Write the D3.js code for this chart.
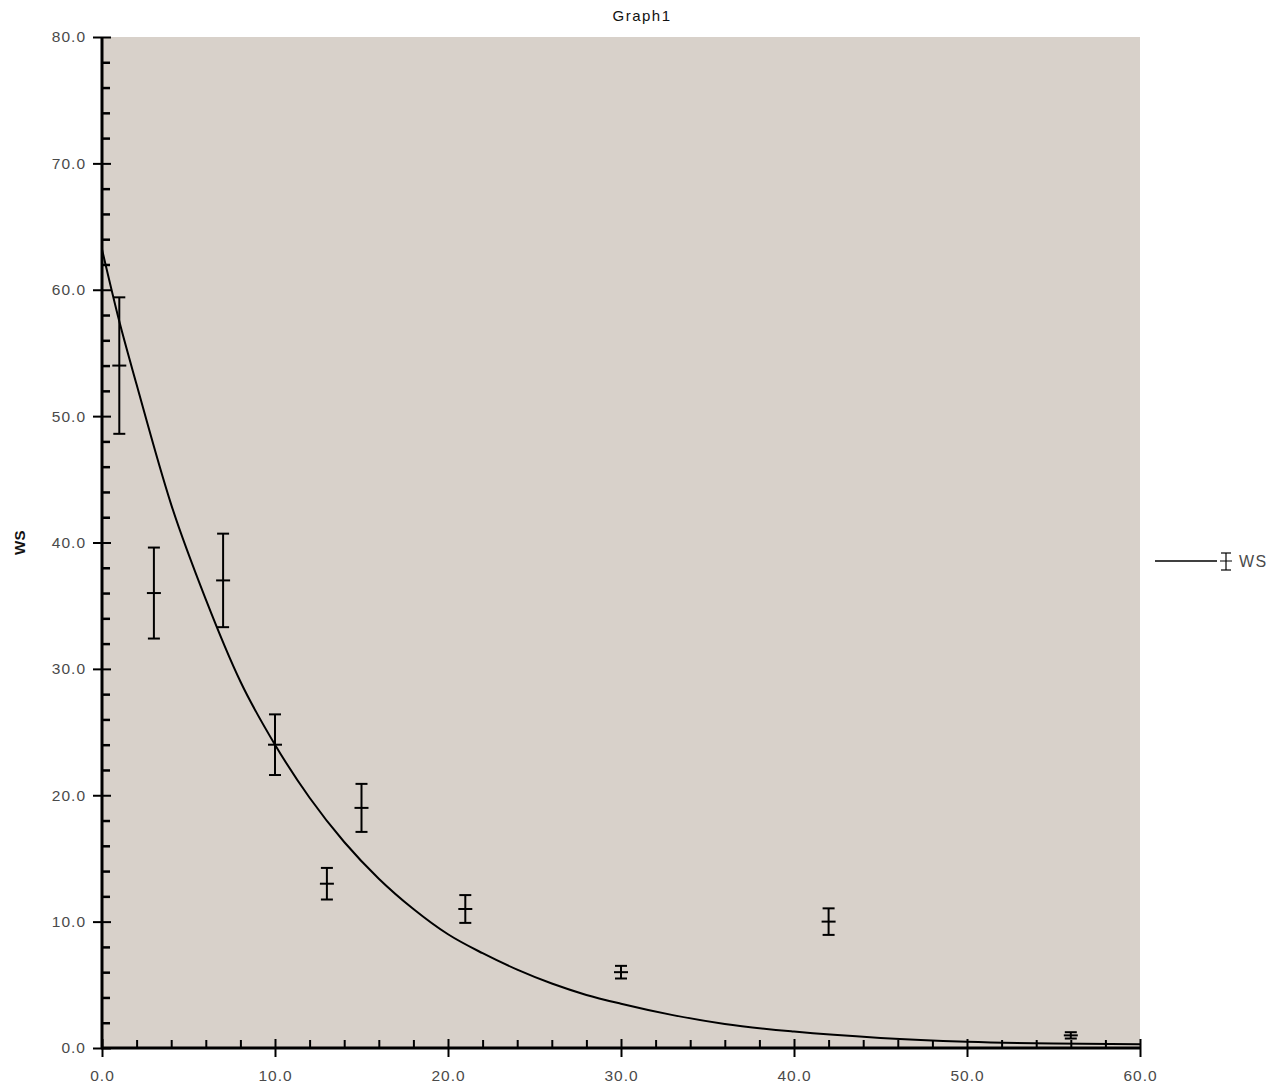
<!DOCTYPE html>
<html>
<head>
<meta charset="utf-8">
<script src="https://cdn.jsdelivr.net/npm/d3@7"></script>
<style>
  body { margin: 0; background: #fff; }
  svg { display: block; }
  text { font-family: "Liberation Sans", Arial, sans-serif; }
</style>
</head>
<body>
<script>
// ---- data ----
const title = "Graph1";
const seriesName = "WS";
const xTicks = [0, 10, 20, 30, 40, 50, 60];
const yTicks = [0, 10, 20, 30, 40, 50, 60, 70, 80];
const pointX = [1, 3, 7, 10, 13, 15, 21, 30, 42, 56];
const pointY = [54.0, 36.0, 37.0, 24.0, 13.0, 19.0, 11.0, 6.0, 10.0, 1.0];
const pointErr = [5.4, 3.6, 3.7, 2.4, 1.25, 1.9, 1.1, 0.5, 1.05, 0.25];
const curveX = [0, 1, 2, 4, 6, 8, 10, 12, 14, 16, 18, 20, 22, 24, 26, 28, 30, 33, 36, 40, 45, 50, 55, 60];
const curveY = [63.2, 57.5, 52.5, 43.0, 35.5, 29.0, 24.0, 19.8, 16.3, 13.4, 11.0, 9.0, 7.5, 6.2, 5.1, 4.2, 3.5, 2.6, 1.9, 1.3, 0.8, 0.5, 0.35, 0.3];

const W = 1284, H = 1087;
const svg = d3.select("body").append("svg").attr("width", W).attr("height", H);

const x = d3.scaleLinear().domain([0, 60]).range([102, 1140]);
const y = d3.scaleLinear().domain([0, 80]).range([1048, 37]);

// plot background
svg.append("rect")
  .attr("x", x(0)).attr("y", y(80))
  .attr("width", x(60) - x(0)).attr("height", y(0) - y(80))
  .attr("fill", "#d8d1ca");

// title
svg.append("text").attr("x", 642).attr("y", 21)
  .attr("text-anchor", "middle").attr("font-size", 15).attr("fill", "#111")
  .attr("letter-spacing", 1.5)
  .text(title);

// y axis label
svg.append("text")
  .attr("transform", `translate(25,${y(40)}) rotate(-90)`)
  .attr("text-anchor", "middle").attr("font-size", 15).attr("font-weight", "bold").attr("fill", "#111")
  .attr("letter-spacing", 0.5)
  .text(seriesName);

// curve
const line = d3.line().x((d, i) => x(curveX[i])).y(d => y(d)).curve(d3.curveMonotoneX);
svg.append("path").datum(curveY)
  .attr("d", line).attr("fill", "none").attr("stroke", "#000").attr("stroke-width", 2);

// axes
const axisColor = "#000";
const labelStyle = sel => sel.attr("font-size", 15.5).attr("fill", "#4a4a4a")
  .attr("font-family", "'Liberation Sans', Arial, sans-serif").attr("letter-spacing", 1);
// y axis minor ticks
const yMinor = d3.range(0, 81, 2).filter(v => v % 10 !== 0);
const yAxisMinor = d3.axisRight(y).tickValues(yMinor).tickSize(8).tickFormat("");
svg.append("g").attr("transform", `translate(${x(0)},0)`).call(yAxisMinor)
  .call(g => g.select(".domain").remove())
  .call(g => g.selectAll("line").attr("stroke", axisColor).attr("stroke-width", 2.5));
// y major
const yAxis = d3.axisLeft(y).tickValues(yTicks).tickSize(9).tickPadding(7).tickFormat(d3.format(".1f"));
const gy = svg.append("g").attr("transform", `translate(${x(0)},0)`).call(yAxis);
gy.select(".domain").remove();
gy.selectAll(".tick line").attr("x2", -9).attr("x1", 9).attr("stroke", axisColor).attr("stroke-width", 2);
gy.selectAll(".tick text").call(labelStyle);
svg.append("line").attr("x1", x(0)).attr("x2", x(0)).attr("y1", y(80)).attr("y2", y(0) + 1)
  .attr("stroke", axisColor).attr("stroke-width", 3);

// x axis minor
const xMinor = d3.range(0, 61, 2).filter(v => v % 10 !== 0);
const xAxisMinor = d3.axisTop(x).tickValues(xMinor).tickSize(8).tickFormat("");
svg.append("g").attr("transform", `translate(0,${y(0)})`).call(xAxisMinor)
  .call(g => g.select(".domain").remove())
  .call(g => g.selectAll("line").attr("stroke", axisColor).attr("stroke-width", 2));
const xAxis = d3.axisBottom(x).tickValues(xTicks).tickSize(9).tickPadding(13).tickFormat(d3.format(".1f"));
const gx = svg.append("g").attr("transform", `translate(0,${y(0)})`).call(xAxis);
gx.select(".domain").remove();
gx.selectAll(".tick line").attr("y1", -9).attr("y2", 9).attr("stroke", axisColor).attr("stroke-width", 2);
gx.selectAll(".tick text").call(labelStyle);
svg.append("line").attr("x1", x(0) - 1).attr("x2", x(60)).attr("y1", y(0)).attr("y2", y(0))
  .attr("stroke", axisColor).attr("stroke-width", 3);

// error bars
const capW = 6, markW = 7;
const eb = svg.append("g").selectAll("g").data(pointX).join("g");
eb.append("line")
  .attr("x1", d => x(d)).attr("x2", d => x(d))
  .attr("y1", (d, i) => y(pointY[i] + pointErr[i])).attr("y2", (d, i) => y(pointY[i] - pointErr[i]))
  .attr("stroke", "#000").attr("stroke-width", 2);
eb.append("line")
  .attr("x1", d => x(d) - capW).attr("x2", d => x(d) + capW)
  .attr("y1", (d, i) => y(pointY[i] + pointErr[i])).attr("y2", (d, i) => y(pointY[i] + pointErr[i]))
  .attr("stroke", "#000").attr("stroke-width", 2);
eb.append("line")
  .attr("x1", d => x(d) - capW).attr("x2", d => x(d) + capW)
  .attr("y1", (d, i) => y(pointY[i] - pointErr[i])).attr("y2", (d, i) => y(pointY[i] - pointErr[i]))
  .attr("stroke", "#000").attr("stroke-width", 2);
eb.append("line")
  .attr("x1", d => x(d) - markW).attr("x2", d => x(d) + markW)
  .attr("y1", (d, i) => y(pointY[i])).attr("y2", (d, i) => y(pointY[i]))
  .attr("stroke", "#000").attr("stroke-width", 2);

// legend
const lg = svg.append("g").attr("transform", "translate(1155,561)");
lg.append("line").attr("x1", 0).attr("x2", 62).attr("y1", 0).attr("y2", 0)
  .attr("stroke", "#000").attr("stroke-width", 1.5);
lg.append("line").attr("x1", 71).attr("x2", 71).attr("y1", -8).attr("y2", 9).attr("stroke", "#000").attr("stroke-width", 1.2);
lg.append("line").attr("x1", 66).attr("x2", 76).attr("y1", -8).attr("y2", -8).attr("stroke", "#000").attr("stroke-width", 1.2);
lg.append("line").attr("x1", 66).attr("x2", 76).attr("y1", 9).attr("y2", 9).attr("stroke", "#000").attr("stroke-width", 1.2);
lg.append("line").attr("x1", 65).attr("x2", 77).attr("y1", 0).attr("y2", 0).attr("stroke", "#000").attr("stroke-width", 1);
lg.append("text").attr("x", 84).attr("y", 6).attr("font-size", 16).attr("fill", "#4a4a4a")
  .attr("letter-spacing", 1.5).text(seriesName);
</script>
</body>
</html>
